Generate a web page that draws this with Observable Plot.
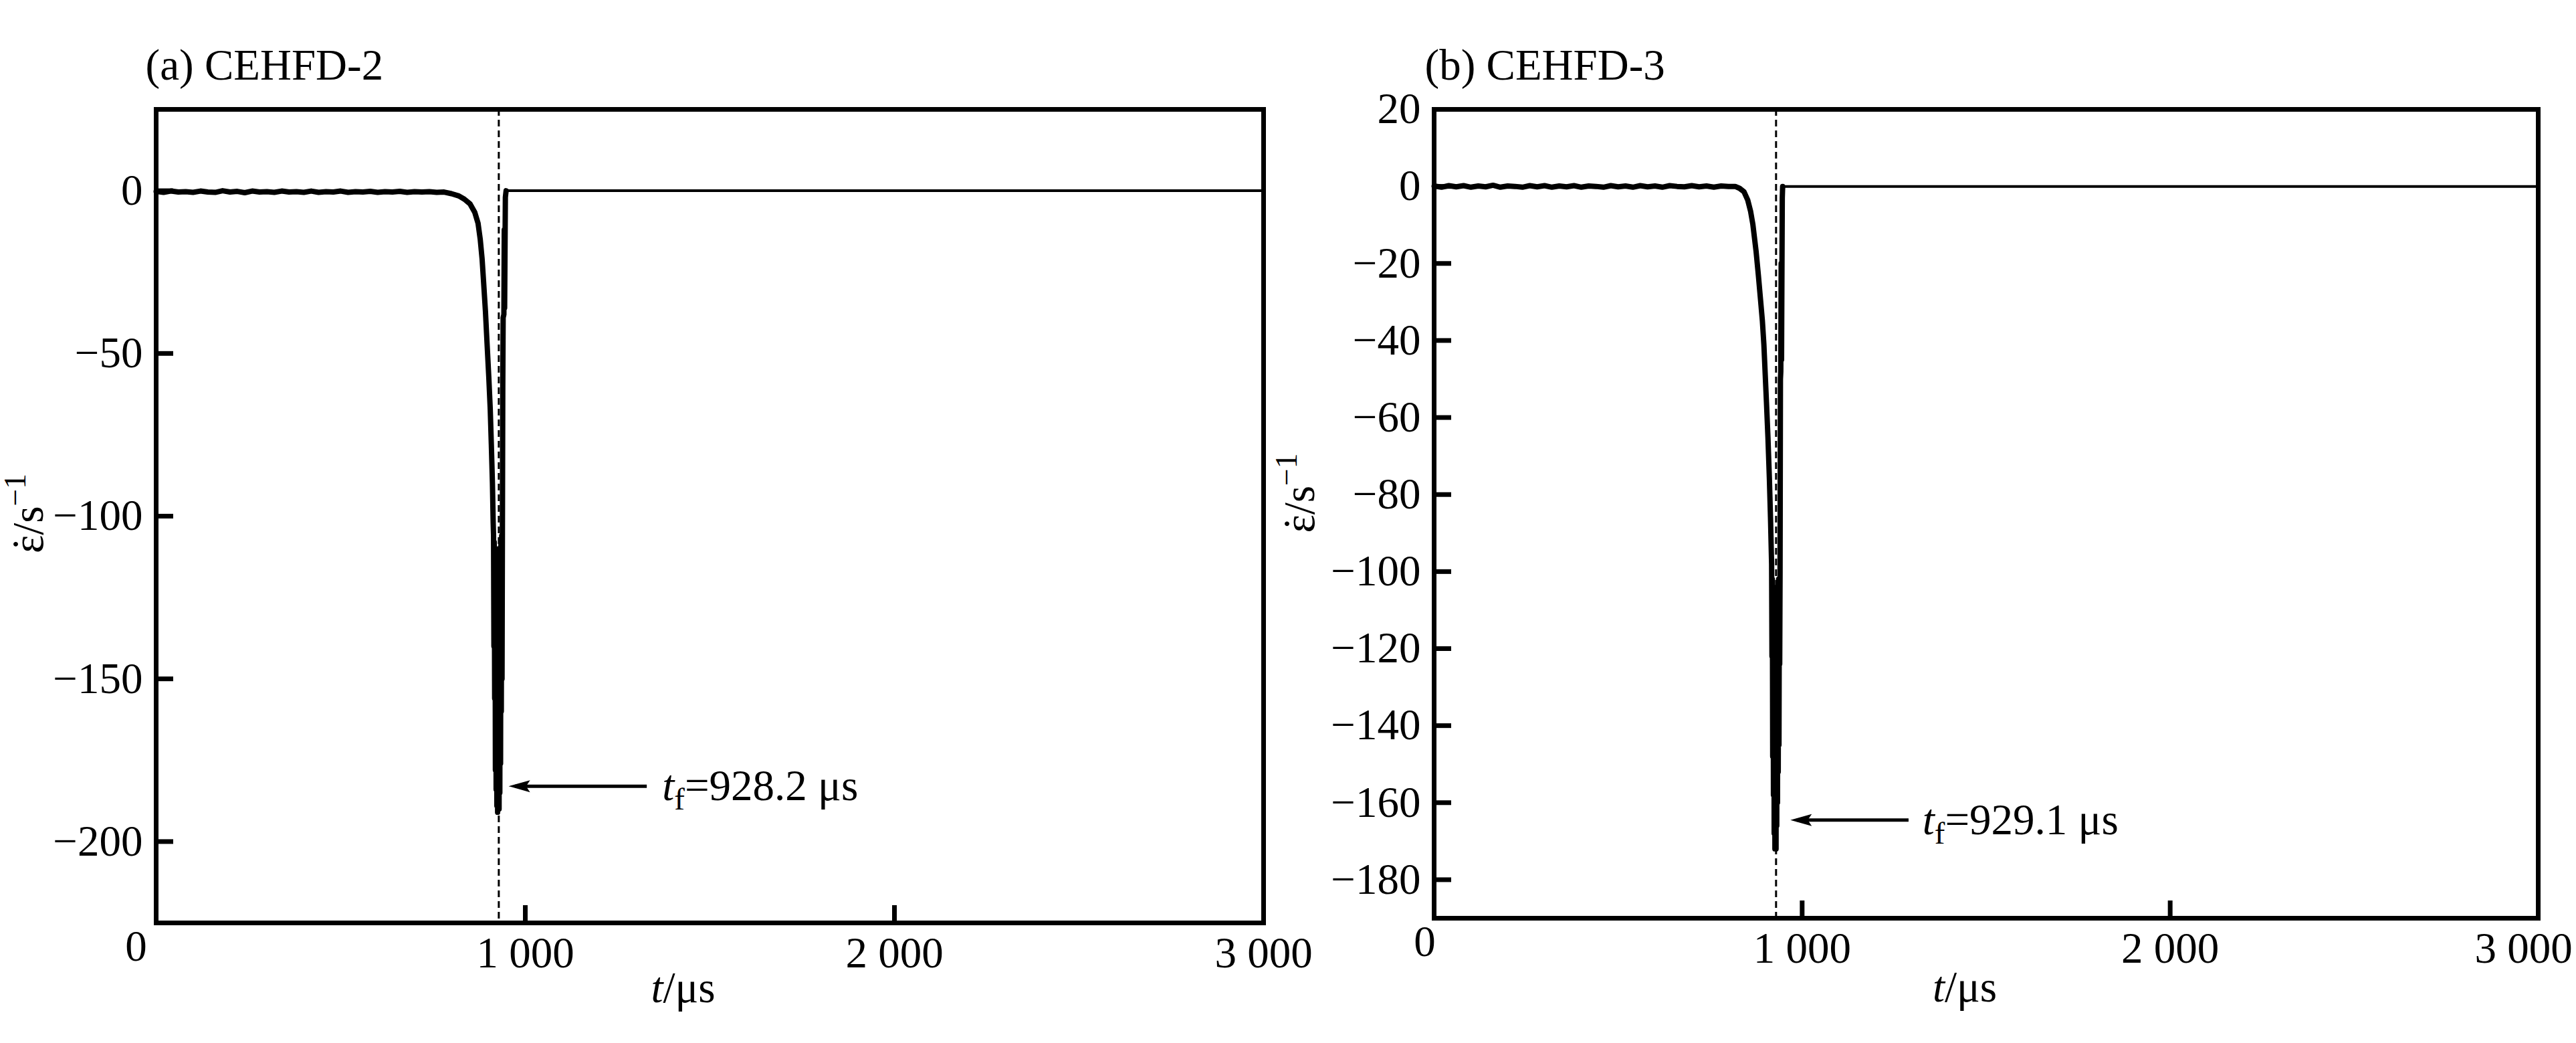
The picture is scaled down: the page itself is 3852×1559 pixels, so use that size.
<!DOCTYPE html>
<html><head><meta charset="utf-8">
<script src="https://cdn.jsdelivr.net/npm/d3@7"></script>
<script src="https://cdn.jsdelivr.net/npm/@observablehq/plot@0.6"></script>
<style>
html,body{margin:0;padding:0;background:#fff;overflow:hidden;}
#wrap{position:relative;width:3852px;height:1559px;background:#fff;}
#wrap svg{position:absolute;left:0;top:0;}
</style></head><body><div id="wrap"></div>
<script>
// ---------- data ----------
const panelTitles = ["(a) CEHFD-2", "(b) CEHFD-3"];
const xTicks = [0, 1000, 2000, 3000];
const xTickLabels = ["0", "1 000", "2 000", "3 000"];
const xLabel = "*t*/μs";
const yLabel = "!{\u03B5}/s^{\u22121}";
const yTicksA = [0, -50, -100, -150, -200];
const yTicksB = [20, 0, -20, -40, -60, -80, -100, -120, -140, -160, -180];
const yDomainA = [-225, 25];
const yDomainB = [-190, 20];

// failure times (μs)
const tfA = 928.2;
const tfB = 929.1;

// panel (a) strain-rate trace before / during failure
const tA = [0,20,40,60,80,100,120,140,160,180,200,220,240,260,280,300,320,340,360,380,
  400,420,440,460,480,500,520,540,560,580,600,620,640,660,680,700,720,740,760,780,
  800,820,835,850,863,872,878,883,887,892,896,901,905,908,911,913,
  914,915,916,917,918,919,920,921,922,923,924,925,926,927,928,929,930,931,932,933,934,935,936,937,938,
  939,940,942,943,944,946,948];
const vA = [-0.2,-0.5,-0.1,-0.4,-0.3,-0.5,-0.1,-0.4,-0.5,0.0,
  -0.4,-0.2,-0.6,-0.1,-0.4,-0.3,-0.5,-0.1,-0.4,-0.3,
  -0.5,-0.1,-0.5,-0.3,-0.4,-0.1,-0.5,-0.3,-0.4,-0.2,
  -0.5,-0.3,-0.4,-0.2,-0.5,-0.3,-0.4,-0.3,-0.5,-0.4,
  -0.9,-1.6,-2.6,-4.0,-6.6,-10,-15,-21,-28,-37,-46,-57,-67,-78,-90,-102,
  -106,-140,-108,-156,-112,-178,-110,-184,-116,-189,-120,-191,-115,-188,-110,-190,-118,-185,-112,-176,-108,-160,-106,-150,-105,
  -60,-39,-38,-12,-36,-2,0];
const tPostA = [948, 3000];
const vPostA = [0, 0];

// panel (b)
const tB = [0,20,40,60,80,100,120,140,160,180,200,220,240,260,280,300,320,340,360,380,
  400,420,440,460,480,500,520,540,560,580,600,620,640,660,680,700,720,740,760,780,800,
  818,830,842,852,860,866,875,881,887,892,896,903,907,911,914,917,
  918,919,920,921,922,923,924,925,926,927,928,929,929.1,930,931,932,933,934,935,936,937,938,939,940,
  941,942,943,944,946,947];
const vB = [0.1,-0.2,0.2,-0.1,0.2,-0.2,0.1,-0.1,0.3,-0.2,
  0.1,0.0,-0.2,0.2,-0.1,0.2,-0.2,0.1,-0.1,0.2,
  -0.2,0.1,0.0,-0.2,0.2,-0.1,0.1,-0.2,0.2,-0.1,
  0.1,-0.2,0.2,0.0,-0.1,0.2,-0.1,0.1,-0.2,0.1,0.0,
  0,-0.5,-1.4,-3.5,-6.5,-9.8,-17,-23,-29.5,-35,-41,-56,-65,-76,-86,-98,
  -122,-102,-148,-105,-158,-110,-168,-106,-172,-112,-170,-118,-172,-108,-166,-104,-160,-110,-152,-102,-145,-108,-124,-100,
  -50,-48,-20,-45,-3,0];
const tPostB = [947, 3000];
const vPostB = [0, 0];

// annotation arrows (data units)
const arrowA = {tip: 955, tail: 1330, y: -183, textX: 1371};
const arrowB = {tip: 968, tail: 1290, y: -164.5, textX: 1327};

// ---------- drawing ----------
const FONT = '"Liberation Serif", "Times New Roman", Times, serif';
const headSymbol = {draw(ctx) { ctx.moveTo(0, 0); ctx.lineTo(32, -9); ctx.lineTo(26, 0); ctx.lineTo(32, 9); ctx.closePath(); }};

function panel(cfg) {
  const pre = cfg.t.map((t, i) => ({t, v: cfg.v[i]}));
  const post = cfg.tPost.map((t, i) => ({t, v: cfg.vPost[i]}));
  const label = `*t*_{f}=${cfg.tf} μs`;
  const txt = {fontFamily: FONT};
  return Plot.plot({
    width: 3852, height: 1559,
    marginLeft: cfg.ml, marginRight: cfg.mr, marginTop: cfg.mt, marginBottom: cfg.mb,
    x: {domain: [0, 3000]},
    y: {domain: cfg.yDomain},
    style: {fontFamily: FONT, fontSize: "65px", background: "transparent", overflow: "visible", color: "black"},
    marks: [
      Plot.ruleX([cfg.tf], {strokeWidth: 3, strokeDasharray: "10,6"}),
      Plot.line(post, {x: "t", y: "v", strokeWidth: 4}),
      Plot.line(pre, {x: "t", y: "v", strokeWidth: 8, strokeLinejoin: "round"}),
      Plot.ruleY([cfg.arrow], {y: "y", x1: d => d.tip + 18, x2: "tail", strokeWidth: 5}),
      Plot.dot([cfg.arrow], {x: "tip", y: "y", symbol: headSymbol, fill: "black", stroke: "none"}),
      Plot.text([cfg.arrow], {x: "textX", y: "y", text: () => label, textAnchor: "start", lineAnchor: "middle", fontSize: 65, ...txt}),
      Plot.frame({strokeWidth: 7}),
      Plot.axisY({ticks: cfg.yTicks, tickSize: 26, dx: 26, fill: "none", strokeWidth: 7, label: null}),
      Plot.axisY({ticks: cfg.yTicks, tickSize: 0, tickPadding: 20, stroke: "none", label: null, ...txt}),
      Plot.axisX({ticks: xTicks.slice(1, 3), tickSize: 26, dy: -26, fill: "none", strokeWidth: 7, label: null}),
      Plot.axisX({ticks: xTicks.slice(1, 3), tickSize: 0, tickPadding: 20, stroke: "none", label: null, ...txt,
        tickFormat: d => xTickLabels[xTicks.indexOf(d)]}),
      Plot.axisX({ticks: xTicks.slice(3), tickSize: 0, tickPadding: 20, stroke: "none", label: null, ...txt,
        dx: cfg.lastDx, tickFormat: () => xTickLabels[3]}),
      Plot.axisX({ticks: xTicks.slice(0, 1), tickSize: 0, tickPadding: 20, stroke: "none", label: null, ...txt,
        dx: cfg.zeroDx, dy: -10, tickFormat: () => xTickLabels[0]}),
      Plot.text([xLabel], {frameAnchor: "bottom", textAnchor: "middle", lineAnchor: "middle", dx: cfg.xLabelDx, dy: cfg.xLabelDy, fontSize: 65, ...txt}),
      Plot.text([yLabel], {frameAnchor: "left", textAnchor: "middle", lineAnchor: "middle", rotate: -90, dx: cfg.yLabelDx, dy: cfg.yLabelDy, fontSize: 65, ...txt}),
      Plot.text([cfg.title], {frameAnchor: "top-left", textAnchor: "start", lineAnchor: "bottom",
        dx: cfg.titleDx, dy: -45, fontSize: 65, ...txt})
    ]
  });
}

function richify(svg) {
  svg.querySelectorAll("text").forEach(el => {
    const s = el.textContent;
    if (!/\*|_\{|\^\{|!\{/.test(s)) return;
    const fs = parseFloat(getComputedStyle(el).fontSize) || 65;
    while (el.firstChild) el.removeChild(el.firstChild);
    const re = /\*([^*]+)\*|_\{([^}]+)\}|\^\{([^}]+)\}|!\{([^}]+)\}|([^*_^!]+)/g;
    const NS = "http://www.w3.org/2000/svg";
    let m, shift = 0, pendingDx = 0;
    while ((m = re.exec(s))) {
      const ts = document.createElementNS(NS, "tspan");
      let target = 0;
      if (m[1]) { ts.textContent = m[1]; ts.setAttribute("font-style", "italic"); }
      else if (m[2]) { ts.textContent = m[2]; target = 0.22 * fs; ts.setAttribute("font-size", 0.72 * fs); }
      else if (m[3]) { ts.textContent = m[3]; target = -0.4 * fs; ts.setAttribute("font-size", 0.7 * fs); }
      else if (m[4]) { ts.textContent = m[4]; }
      else ts.textContent = m[5];
      const d = target - shift;
      if (d) ts.setAttribute("dy", d);
      if (pendingDx) { ts.setAttribute("dx", pendingDx); pendingDx = 0; }
      shift = target;
      el.appendChild(ts);
      if (m[4]) {
        const dot = document.createElementNS(NS, "tspan");
        dot.textContent = "\u02D9";
        el.appendChild(dot);
        const wc = ts.getComputedTextLength();
        const wd = dot.getComputedTextLength();
        dot.setAttribute("dx", -(wc + wd) / 2);
        pendingDx = (wc - wd) / 2;
      }
    }
  });
}

const wrap = document.getElementById("wrap");
const svgA = panel({
  t: tA, v: vA, tPost: tPostA, vPost: vPostA, tf: tfA, arrow: arrowA,
  yDomain: yDomainA, yTicks: yTicksA, title: panelTitles[0],
  ml: 233, mr: 3852 - 1889, mt: 163, mb: 1559 - 1379,
  zeroDx: -30, lastDx: 0, xLabelDx: -40, xLabelDy: 98, yLabelDx: -190, yLabelDy: -4, titleDx: -16
});
const svgB = panel({
  t: tB, v: vB, tPost: tPostB, vPost: vPostB, tf: tfB, arrow: arrowB,
  yDomain: yDomainB, yTicks: yTicksB, title: panelTitles[1],
  ml: 2144, mr: 3852 - 3795, mt: 163, mb: 1559 - 1372,
  zeroDx: -14, lastDx: -22, xLabelDx: -32, xLabelDy: 104, yLabelDx: -200, yLabelDy: -31, titleDx: -14
});
wrap.appendChild(svgA);
wrap.appendChild(svgB);
richify(svgA);
richify(svgB);
</script></body></html>
